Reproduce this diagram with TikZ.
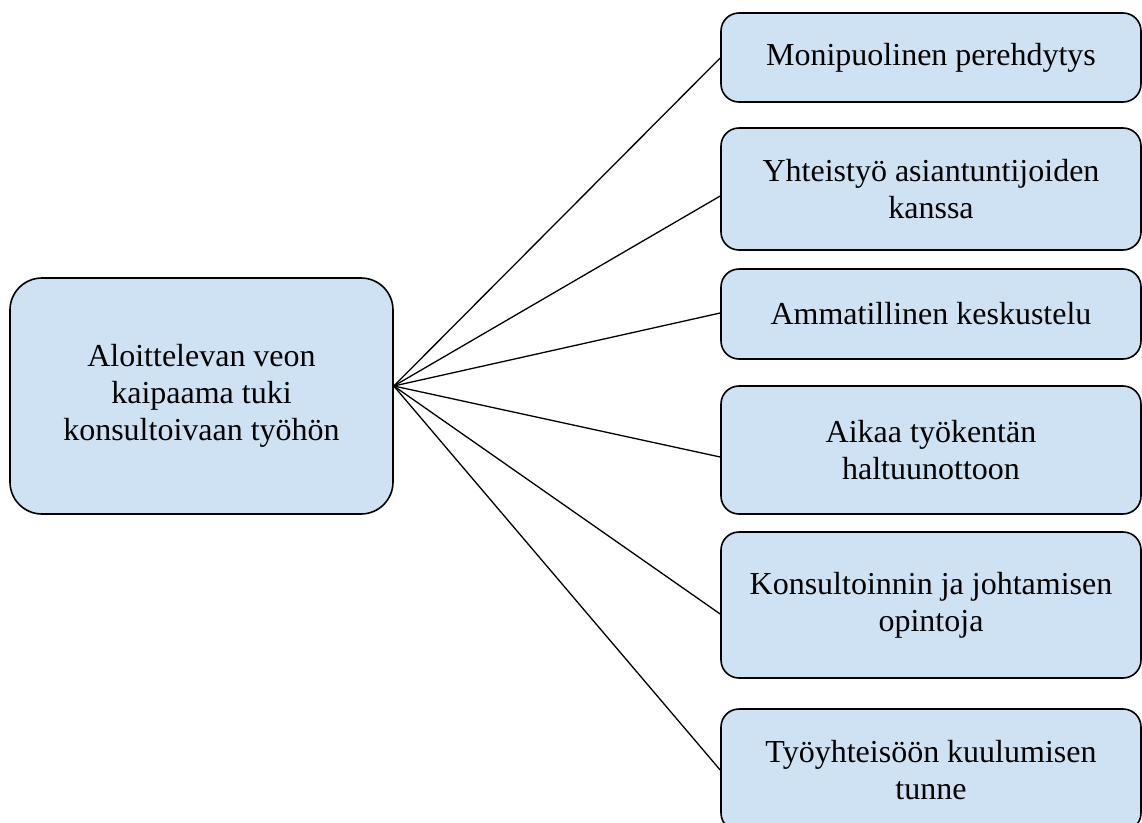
\documentclass[tikz,border=0pt]{standalone}
\usepackage{fontspec}
\setmainfont{Liberation Serif}
\definecolor{boxfill}{RGB}{207,226,243}
\begin{document}
\begin{tikzpicture}[x=1pt,y=-1pt,
  box/.style={draw=black, line width=1.6pt, fill=boxfill, rounded corners=18pt,
    align=center, font=\fontsize{32}{37}\selectfont, inner sep=0pt,
    minimum width=420pt},
  link/.style={line width=1.3pt}]
\useasboundingbox (0,0) rectangle (1142,822);
\node[box, minimum width=383pt, minimum height=236pt, rounded corners=32pt] (src) at (201.5,396) {Aloittelevan veon\\kaipaama tuki\\konsultoivaan työhön};
\node[box, minimum height=89pt] (b1) at (931,57.5) {Monipuolinen perehdytys};
\node[box, minimum height=122pt] (b2) at (931,189) {Yhteistyö asiantuntijoiden\\kanssa};
\node[box, minimum height=90pt] (b3) at (931,314) {Ammatillinen keskustelu};
\node[box, minimum height=128pt] (b4) at (931,450) {Aikaa työkentän\\haltuunottoon};
\node[box, minimum height=146pt] (b5) at (931,605) {Konsultoinnin ja johtamisen\\opintoja};
\node[box, minimum height=122pt] (b6) at (931,770) {Työyhteisöön kuulumisen\\tunne};
\coordinate (hub) at ([yshift=10pt]src.east);
\draw[link] (hub) -- ([yshift=-0.5pt]b1.west);
\draw[link] (hub) -- ([yshift=-7pt]b2.west);
\draw[link] (hub) -- ([yshift=1pt]b3.west);
\draw[link] (hub) -- ([yshift=-7pt]b4.west);
\draw[link] (hub) -- ([yshift=-9pt]b5.west);
\draw[link] (hub) -- (b6.west);
\end{tikzpicture}
\end{document}
